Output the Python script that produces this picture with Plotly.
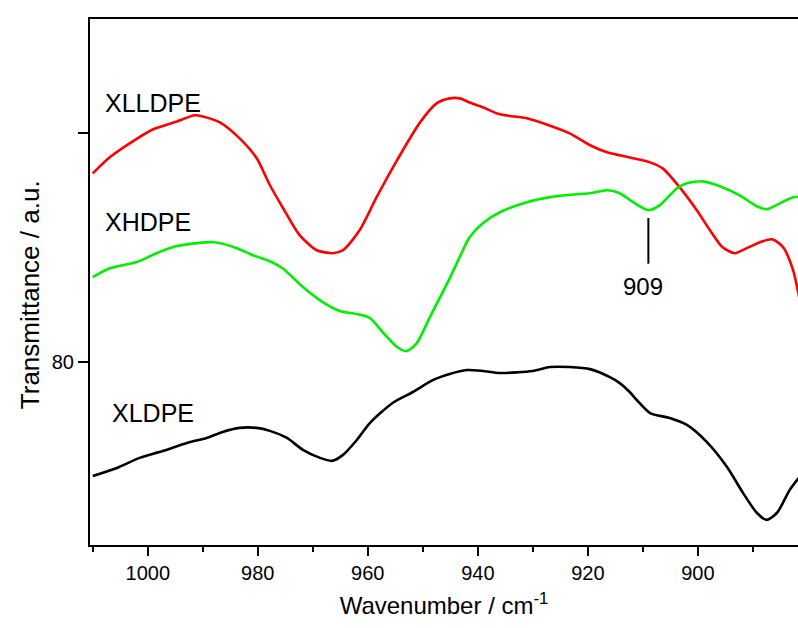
import plotly.graph_objects as go

# FTIR spectra, wavenumber (cm-1) vs. offset transmittance
wn_xlldpe = [1010.0, 1006.9, 1003.3, 999.1, 994.7, 991.5, 990.0, 986.9, 983.3, 980.2,
             977.8, 975.5, 972.4, 969.3, 966.4, 964.5, 961.5, 958.4, 954.7, 950.5,
             947.5, 945.1, 943.3, 941.5, 939.1, 936.0, 931.1, 927.5, 923.3, 919.6,
             916.5, 914.2, 911.8, 908.7, 906.4, 903.3, 900.2, 897.8, 895.5, 893.3,
             891.1, 888.7, 886.5, 884.5, 882.7, 881.5]
t_xlldpe = [88.25, 88.95, 89.56, 90.17, 90.52, 90.79, 90.74, 90.48, 89.78, 88.91,
            87.73, 86.77, 85.55, 84.89, 84.76, 84.89, 85.76, 87.21, 88.82, 90.48,
            91.31, 91.53, 91.53, 91.35, 91.14, 90.83, 90.66, 90.39, 90.00, 89.48,
            89.17, 89.04, 88.91, 88.73, 88.47, 87.64, 86.64, 85.76, 85.02, 84.76,
            84.98, 85.24, 85.37, 85.02, 84.02, 82.71]

wn_xhdpe = [1010.0, 1006.9, 1002.0, 998.4, 994.7, 991.1, 987.8, 983.8, 980.9, 977.8,
            975.5, 971.8, 968.2, 965.1, 962.0, 959.6, 957.3, 954.7, 952.9, 951.1,
            948.7, 945.1, 943.3, 941.5, 939.1, 936.0, 931.1, 926.9, 922.0, 919.6,
            916.5, 914.2, 911.8, 909.0, 906.9, 903.8, 902.0, 899.1, 896.0, 892.4,
            889.3, 887.5, 885.1, 882.7, 881.5]
t_xhdpe = [83.71, 84.10, 84.37, 84.76, 85.07, 85.20, 85.24, 84.98, 84.67, 84.41,
           84.10, 83.28, 82.62, 82.23, 82.10, 81.92, 81.31, 80.66, 80.48, 80.83,
           81.97, 83.67, 84.59, 85.46, 86.07, 86.55, 86.99, 87.21, 87.34, 87.38,
           87.51, 87.38, 86.99, 86.64, 86.86, 87.60, 87.82, 87.90, 87.69, 87.29,
           86.81, 86.68, 86.94, 87.21, 87.21]

wn_xldpe = [1010.0, 1005.6, 1001.5, 997.3, 992.9, 989.3, 986.4, 983.3, 980.2, 977.8,
            974.7, 971.8, 968.7, 966.5, 964.5, 962.0, 959.6, 955.5, 951.8, 948.2,
            945.1, 942.0, 939.1, 936.0, 930.0, 926.9, 923.3, 919.6, 916.0, 914.2,
            912.4, 911.1, 908.7, 905.1, 902.0, 898.4, 894.7, 891.8, 889.3, 887.5,
            885.6, 883.3, 881.5]
t_xldpe = [75.02, 75.37, 75.81, 76.11, 76.46, 76.68, 76.94, 77.12, 77.12, 76.99,
           76.68, 76.16, 75.81, 75.68, 75.94, 76.59, 77.34, 78.21, 78.69, 79.21,
           79.48, 79.65, 79.61, 79.52, 79.61, 79.78, 79.78, 79.69, 79.34, 79.08,
           78.69, 78.34, 77.77, 77.55, 77.25, 76.51, 75.41, 74.28, 73.41, 73.10,
           73.41, 74.41, 74.98]

x_ticks = [1000, 980, 960, 940, 920, 900]
y_ticks = [80, 90]
y_ticktext = ["80", ""]

band_909 = 909
band_909_top = 86.3
band_909_bottom = 84.3

FONT = "Liberation Sans, Arial, sans-serif"

fig = go.Figure()
for wn, t, col, name in [
    (wn_xlldpe, t_xlldpe, "#ff0000", "XLLDPE"),
    (wn_xhdpe, t_xhdpe, "#00ee00", "XHDPE"),
    (wn_xldpe, t_xldpe, "#000000", "XLDPE"),
]:
    fig.add_trace(go.Scatter(
        x=wn, y=t, mode="lines", name=name,
        line=dict(color=col, width=2.6, shape="spline", smoothing=0.7),
        showlegend=False, hoverinfo="skip",
    ))

# curve labels
for txt, xv, yv in [("XLLDPE", 999.0, 91.31), ("XHDPE", 1000.0, 86.11), ("XLDPE", 999.0, 77.77)]:
    fig.add_annotation(x=xv, y=yv, text=txt, showarrow=False,
                       font=dict(family=FONT, size=25, color="black"))

# 909 cm-1 band marker
fig.add_shape(type="line", x0=band_909, x1=band_909, y0=band_909_bottom, y1=band_909_top,
              line=dict(color="black", width=2))
fig.add_annotation(x=band_909 + 1, y=83.3, text=str(band_909), showarrow=False,
                   font=dict(family=FONT, size=24, color="black"))

# y-axis title, set slightly below the centre of the plot area
fig.add_annotation(xref="paper", yref="paper", x=-0.0847, y=0.475,
                   xanchor="center", yanchor="middle",
                   text="Transmittance / a.u.", textangle=-90, showarrow=False,
                   font=dict(family=FONT, size=26, color="black"))

fig.update_layout(
    width=798, height=628,
    margin=dict(l=90, r=0, t=19, b=83),
    plot_bgcolor="white", paper_bgcolor="white",
    font=dict(family=FONT, color="black"),
    xaxis=dict(
        range=[1010.5, 881.8], tickvals=x_ticks,
        ticks="outside", ticklen=9, tickwidth=1.5, tickcolor="black",
        minor=dict(dtick=10, tick0=0, ticks="outside", ticklen=5, tickwidth=1.5, tickcolor="black"),
        showline=True, linecolor="black", linewidth=2, mirror=True,
        showgrid=False, zeroline=False,
        tickfont=dict(size=20, family=FONT),
        title=dict(text="Wavenumber / cm<sup>-1</sup>", font=dict(size=24, family=FONT), standoff=14),
    ),
    xaxis2=dict(
        range=[1010.5, 881.8], overlaying="x", side="top", anchor="y",
        dtick=10, tick0=0, ticks="outside", ticklen=2, tickwidth=1, tickcolor="black",
        showticklabels=False, showline=False, showgrid=False, zeroline=False,
    ),
    yaxis=dict(
        range=[72, 95], tickvals=y_ticks, ticktext=y_ticktext,
        ticks="outside", ticklen=10, tickwidth=1.5, tickcolor="black",
        showline=True, linecolor="black", linewidth=2,
        showgrid=False, zeroline=False,
        tickfont=dict(size=20, family=FONT),
    ),
)

fig.write_html("out.html")
